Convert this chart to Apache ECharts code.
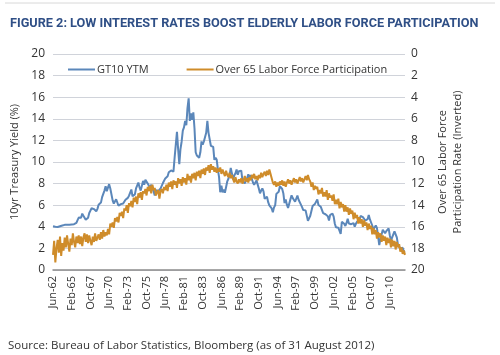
<!DOCTYPE html>
<html><head><meta charset="utf-8">
<script src="https://cdn.jsdelivr.net/npm/echarts@6/dist/echarts.min.js"></script>
<style>html,body{margin:0;padding:0;background:#fff}#c{width:500px;height:355px}</style>
</head><body><div id="c"></div>
<script>
// Bi-monthly observations starting Jun-1962 (month index 0), step 2 months
const stepMonths = 2;
const xTickLabels = ["Jun-62","Feb-65","Oct-67","Jun-70","Feb-73","Oct-75","Jun-78","Feb-81","Oct-83","Jun-86","Feb-89","Oct-91","Jun-94","Feb-97","Oct-99","Jun-02","Feb-05","Oct-07","Jun-10"];
const leftTicks = [0,2,4,6,8,10,12,14,16,18,20];
const rightTicks = [0,2,4,6,8,10,12,14,16,18,20];

const gt10 = [
4.05,4.02,4.00,3.95,
3.98,4.02,4.05,4.08,4.12,4.15,
4.18,4.24,4.20,4.21,4.20,4.21,
4.22,4.23,4.24,4.28,4.36,4.62,
4.85,4.72,4.84,5.22,5.02,4.86,
4.65,4.58,4.84,5.28,5.50,5.72,
5.58,5.64,5.52,5.44,5.66,6.05,
6.22,6.24,6.75,6.90,7.35,7.76,
7.30,7.40,7.95,7.55,7.48,6.45,
6.15,6.00,6.55,6.60,5.95,5.92,
6.10,6.25,6.15,6.25,6.50,6.40,
6.68,6.88,6.95,7.45,6.82,6.85,
7.00,7.55,7.60,8.10,7.65,7.35,
7.45,8.25,7.90,8.35,8.20,8.00,
7.82,7.60,7.90,7.55,7.30,6.90,
7.40,7.38,7.30,7.42,7.55,7.72,
8.05,8.18,8.48,8.45,8.68,9.05,
9.08,9.22,9.10,9.10,10.40,10.45,
12.80,11.20,9.80,11.20,11.90,12.90,
13.20,13.80,13.40,15.00,15.90,13.80,
14.50,13.90,14.60,13.10,10.90,10.60,
10.50,10.40,10.90,11.90,11.60,11.90,
12.00,12.70,13.80,12.70,12.10,11.50,
11.60,11.40,10.20,10.40,10.20,9.30,
8.60,7.20,7.80,7.20,7.45,7.15,
7.28,8.20,8.45,8.80,9.45,8.95,
8.40,8.75,8.95,9.30,8.82,9.15,
9.20,9.20,8.28,8.15,8.02,7.90,
8.50,8.85,8.50,8.78,8.72,8.10,
7.88,8.06,8.30,8.18,7.55,7.10,
7.36,7.56,7.28,6.60,6.62,6.78,
6.28,5.98,5.98,5.70,5.35,5.80,
6.00,7.05,7.12,7.25,7.76,7.86,
7.50,7.08,6.20,6.52,6.05,5.74,
5.84,6.54,6.92,6.66,6.55,6.32,
6.44,6.90,6.50,6.32,6.05,5.82,
5.55,5.66,5.52,5.36,4.55,4.68,
5.02,5.20,5.92,5.80,6.12,6.30,
6.54,6.02,6.12,5.85,5.76,5.26,
5.12,5.16,5.30,4.98,4.58,5.10,
4.92,5.22,4.95,4.28,3.95,4.05,
3.92,3.98,3.35,4.46,4.30,4.28,
4.08,4.36,4.74,4.30,4.12,4.24,
4.18,4.35,4.02,4.28,4.48,4.48,
4.58,5.00,5.12,4.90,4.74,4.58,
4.74,4.70,5.10,4.68,4.54,4.12,
3.76,3.70,4.12,3.90,3.82,2.30,
2.88,2.95,3.72,3.60,3.40,3.60,
3.70,3.86,3.22,2.72,2.56,3.30,
3.58,3.46,3.02,2.32,2.16,2.00,
1.98,2.06,1.70,1.75
];

const over65 = [
18.6,17.3,19.3,18.0,
17.2,18.4,16.9,18.7,17.5,18.2,
17.0,17.9,16.8,17.6,18.3,17.1,
17.7,16.6,17.4,17.9,16.9,17.5,
16.8,17.6,16.9,17.8,17.0,16.6,
17.4,16.7,17.5,16.8,17.3,17.7,
16.9,17.4,16.6,17.3,17.0,16.7,
17.2,16.5,17.1,16.3,16.9,16.5,
16.8,16.2,16.7,15.7,16.0,15.6,
16.1,15.2,15.5,15.1,15.6,14.7,
15.0,14.6,15.2,14.3,14.5,14.0,
14.7,13.8,14.1,13.6,14.2,13.3,
13.7,13.2,13.9,12.9,13.3,12.8,
13.5,12.7,12.9,12.5,13.1,12.3,
12.7,12.2,12.9,12.1,12.6,12.4,
13.1,12.8,12.6,13.4,12.7,12.5,
12.9,12.3,12.6,12.1,12.7,11.9,
12.3,11.8,12.5,11.7,12.1,11.8,
12.4,11.5,12.0,11.6,12.2,11.4,
11.9,11.5,12.1,11.1,11.7,11.3,
11.9,11.1,11.5,11.0,11.7,10.9,
11.3,10.8,11.5,10.7,11.1,10.6,
11.2,10.5,10.8,10.3,11.0,10.2,
10.7,10.4,10.9,10.5,11.0,10.6,
10.9,10.5,11.1,10.7,11.0,11.3,
10.8,11.2,11.4,11.0,11.5,11.2,
11.6,11.9,11.4,11.8,12.0,11.6,
11.9,11.5,12.0,11.7,11.3,11.8,
11.5,11.9,11.4,11.7,11.2,11.5,
11.1,11.6,11.3,11.7,11.2,11.5,
11.0,11.4,11.1,10.9,11.3,10.8,
11.2,10.7,11.1,11.5,11.9,12.1,
11.8,12.3,11.9,12.2,11.8,12.1,
11.7,12.2,11.8,12.3,11.9,11.6,
12.0,11.7,12.1,11.8,11.5,11.9,
11.6,12.0,11.7,11.4,11.8,11.5,
11.9,11.6,11.3,11.7,11.2,11.6,
11.8,12.3,11.9,12.6,12.2,12.5,
12.3,13.0,12.6,12.9,12.4,13.2,
12.8,13.2,12.6,13.5,12.9,13.3,
13.1,13.6,13.0,13.9,13.5,13.9,
13.4,14.3,13.7,14.2,13.9,14.6,
14.0,14.6,14.2,14.9,14.3,14.8,
14.5,15.3,14.7,15.2,14.9,15.7,
15.1,15.7,15.3,16.0,15.4,15.9,
15.6,16.3,15.7,16.2,15.9,16.7,
16.1,16.7,16.3,17.1,16.5,17.0,
16.6,17.4,16.8,17.3,16.9,17.7,
17.0,17.5,17.1,17.9,17.2,17.8,
17.3,18.1,17.4,17.9,17.6,18.3,
17.9,18.5,18.2,18.6
];

const seriesNames = ["GT10 YTM","Over 65 Labor Force Participation"];
const tickEvery = 32;
const lastMonth = (gt10.length - 1) * stepMonths;

const blueData = gt10.map((v,i)=>[i*stepMonths, v]);
const orangeData = over65.map((v,i)=>[i*stepMonths, v]);

const chart = echarts.init(document.getElementById('c'), null, {renderer:'canvas'});
const FONT = "'Open Sans', 'Noto Sans', sans-serif";
chart.setOption({
  animation:false,
  backgroundColor:'#fff',
  title:[
    {text:'FIGURE 2: LOW INTEREST RATES BOOST ELDERLY LABOR FORCE PARTICIPATION', left:5, top:12,
     textStyle:{fontFamily:"'Roboto', sans-serif", fontWeight:'bold', fontSize:12.7, color:'#2F4F86'}},
    {text:'Source: Bureau of Labor Statistics, Bloomberg (as of 31 August 2012)', left:3, top:335,
     textStyle:{fontFamily:FONT, fontWeight:'normal', fontSize:11.5, color:'#333'}}
  ],
  graphic:[{type:'line', shape:{x1:5,y1:3,x2:495,y2:3}, style:{stroke:'#d8d8d8', lineWidth:1}}],
  legend:{
    left:63, top:59, itemWidth:27, itemHeight:2, icon:'rect', itemGap:38,
    textStyle:{fontFamily:FONT, fontSize:11, color:'#333', padding:[0,0,0,-3]},
    data:seriesNames
  },
  grid:{left:53, right:95, top:54, bottom:85, containLabel:false},
  xAxis:{
    type:'value', min:0, max:lastMonth, interval:tickEvery,
    axisLine:{show:true, onZero:false, lineStyle:{color:'#8c8c8c', width:1.5}},
    axisTick:{show:false}, splitLine:{show:false},
    axisLabel:{rotate:90, margin:6, fontFamily:FONT, fontSize:11, color:'#333',
      showMaxLabel:false,
      formatter:v=>{const k=v/tickEvery; return Number.isInteger(k)&&xTickLabels[k]?xTickLabels[k]:'';}}
  },
  yAxis:[
    {type:'value', min:leftTicks[0], max:leftTicks[leftTicks.length-1], interval:2, position:'left',
     name:'10yr Treasury Yield (%)', nameLocation:'middle', nameGap:32, nameRotate:90,
     nameTextStyle:{fontFamily:FONT, fontSize:11, color:'#333'},
     axisLine:{show:false}, axisTick:{show:false},
     axisLabel:{fontFamily:FONT, fontSize:12, color:'#333', margin:8},
     splitLine:{lineStyle:{color:'#d0d3da', width:1.2}}},
    {type:'value', min:rightTicks[0], max:rightTicks[rightTicks.length-1], interval:2, position:'right', inverse:true,
     name:'Over 65 Labor Force\nParticipation Rate (Inverted)', nameLocation:'middle', nameGap:26, nameRotate:90,
     nameTextStyle:{fontFamily:FONT, fontSize:11, color:'#333', lineHeight:15},
     axisLine:{show:false}, axisTick:{show:false},
     axisLabel:{fontFamily:FONT, fontSize:12, color:'#333', margin:6},
     splitLine:{show:false}}
  ],
  series:[
    {name:seriesNames[0], type:'line', yAxisIndex:0, data:blueData, showSymbol:false,
     lineStyle:{color:'#5B87BA', width:2}, itemStyle:{color:'#5B87BA'}},
    {name:seriesNames[1], type:'line', yAxisIndex:1, data:orangeData, showSymbol:false,
     lineStyle:{color:'#CF8C2A', width:2}, itemStyle:{color:'#CF8C2A'}}
  ]
});
</script></body></html>
